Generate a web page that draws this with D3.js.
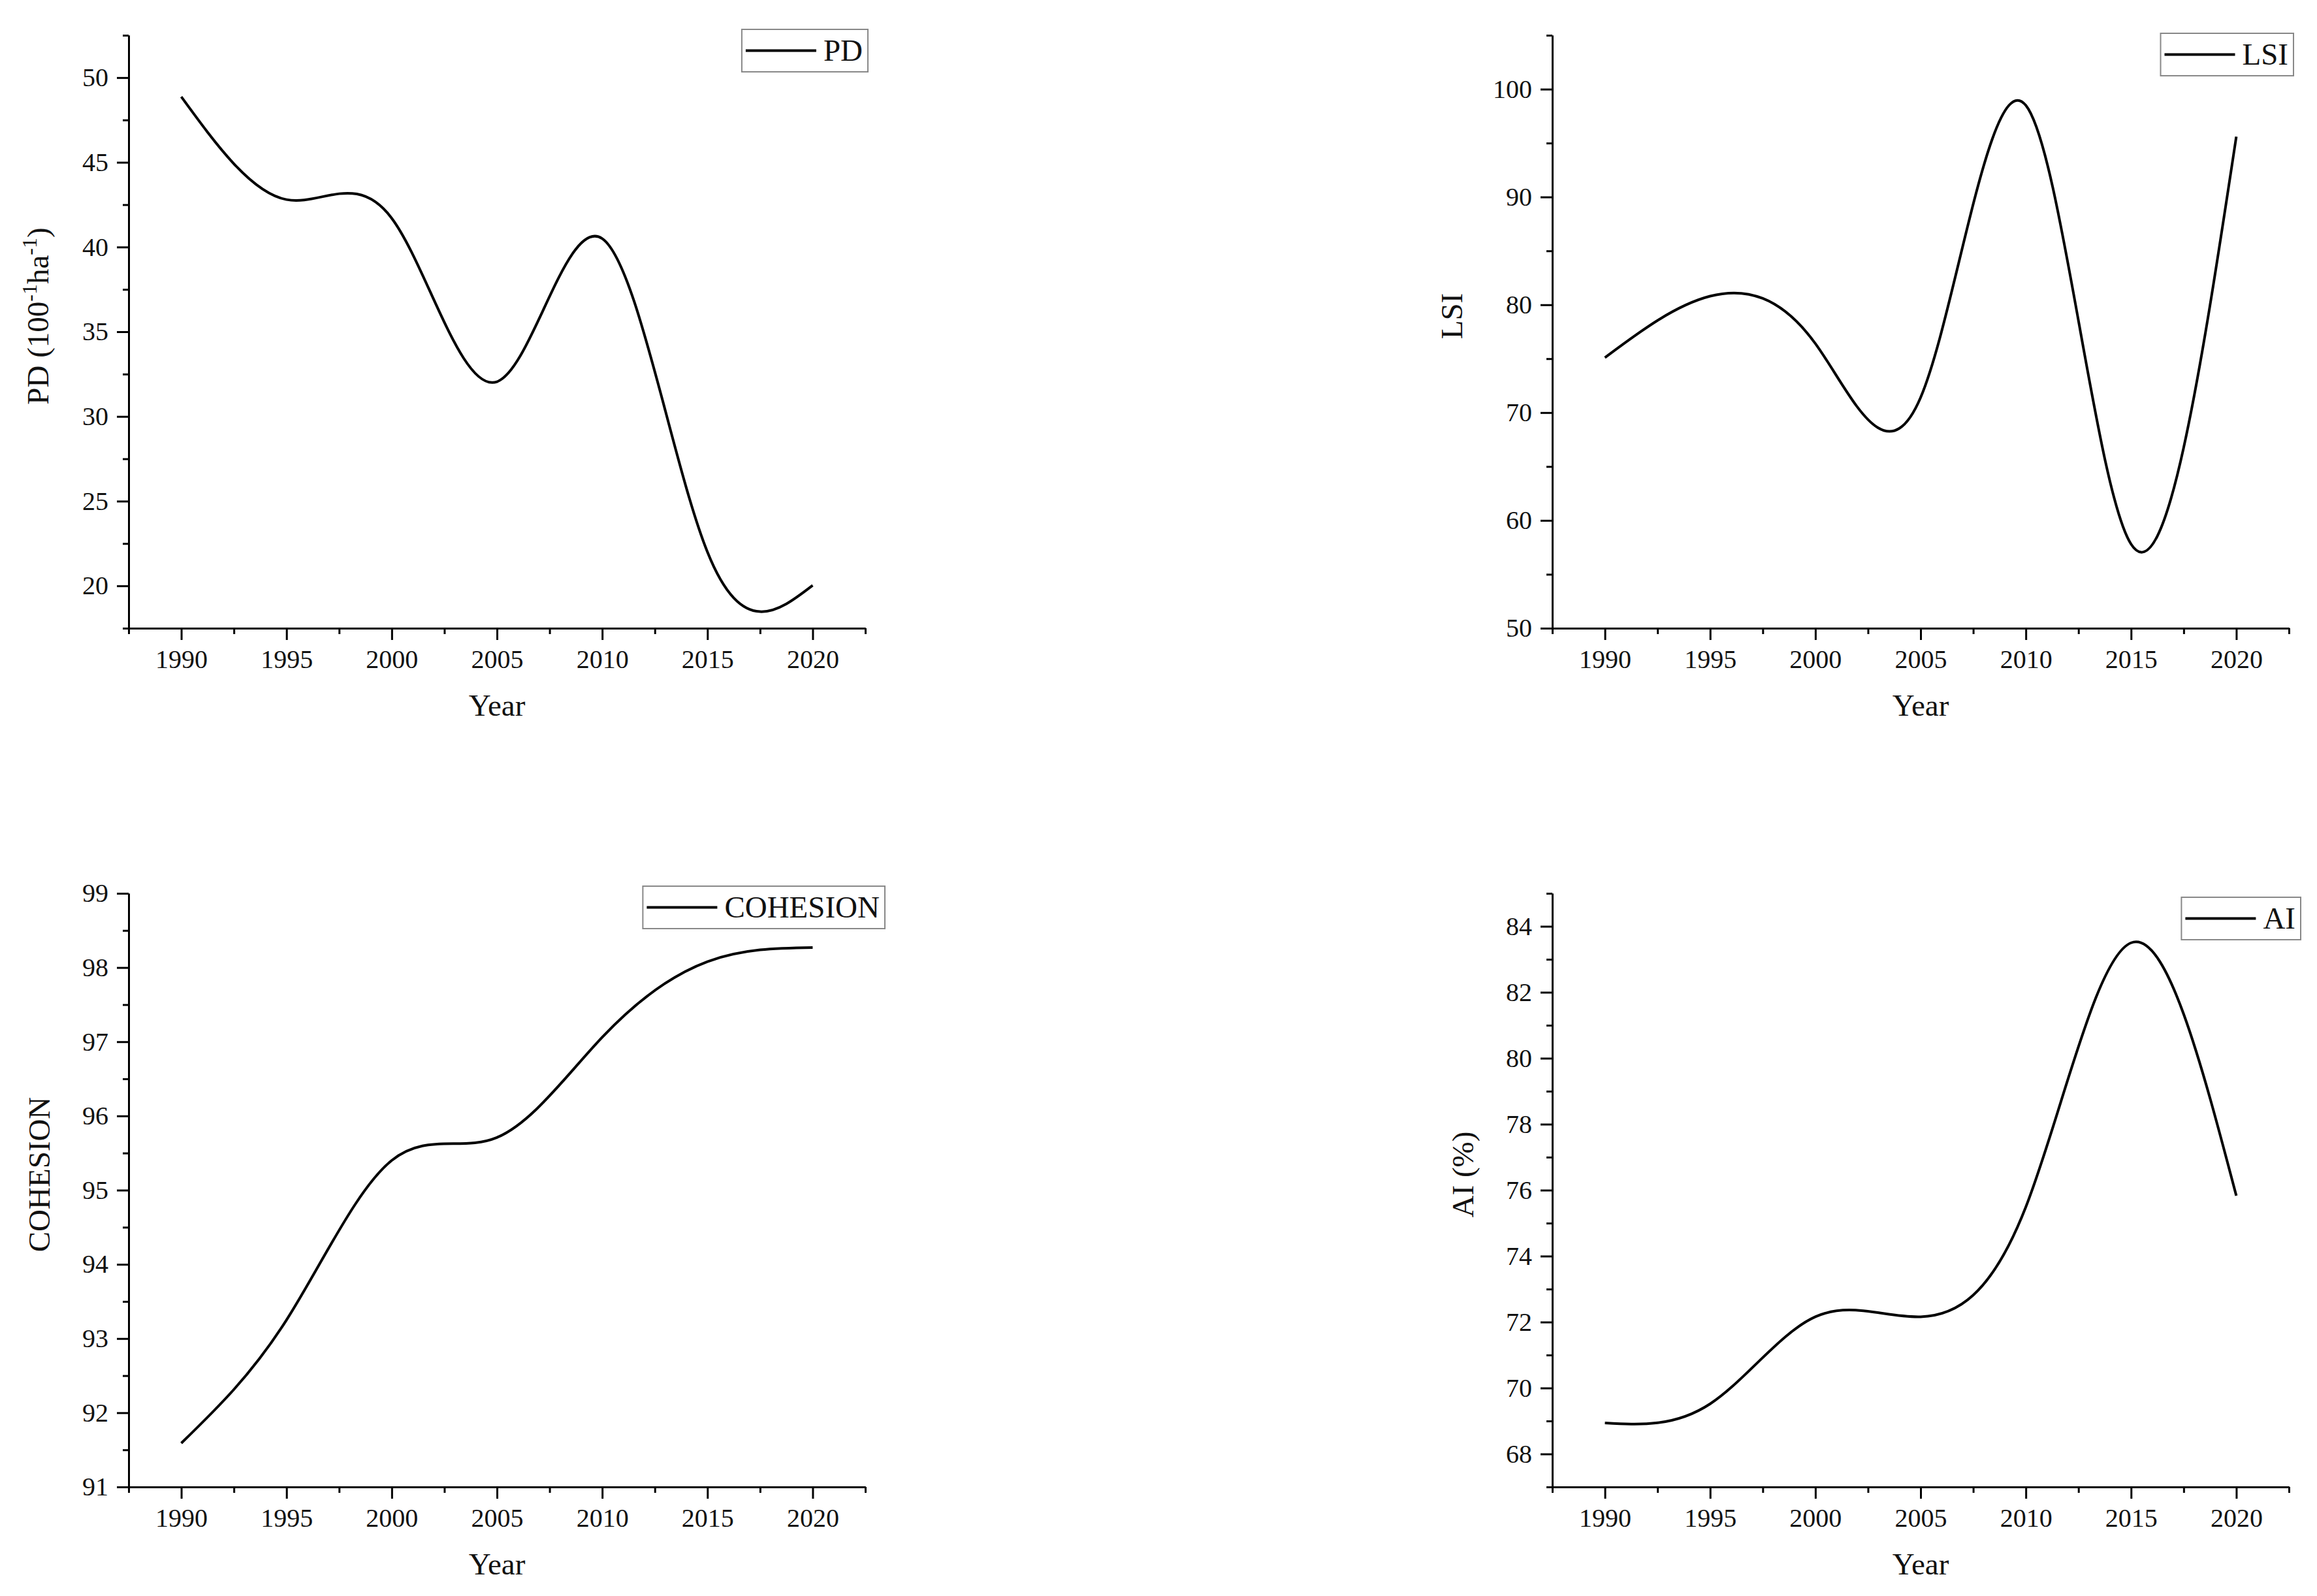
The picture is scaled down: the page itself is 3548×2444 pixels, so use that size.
<!DOCTYPE html>
<html>
<head>
<meta charset="utf-8">
<script src="https://cdn.jsdelivr.net/npm/d3@7"></script>
<style>
  body { margin: 0; background: #fff; }
  text { font-family: "Liberation Serif", "Times New Roman", serif; fill: #111; }
</style>
</head>
<body>
<div id="chart"></div>
<script>
// svg size
var svgWidth = 3548;
var svgHeight = 2444;

// data (one value every 5 years)
var years = [1990, 1995, 2000, 2005, 2010, 2015, 2020];
var pdValues = [48.87, 42.8, 41.7, 32.05, 40.5, 22.0, 20.03];
var lsiValues = [75.1, 80.8, 76.4, 71.4, 98.5, 57.8, 95.6];
var cohesionValues = [91.59, 93.25, 95.40, 95.71, 97.06, 98.08, 98.27];
var aiValues = [68.94, 69.52, 72.16, 72.16, 75.49, 83.5, 75.83];

// tick labels
var yearTicks = [1990, 1995, 2000, 2005, 2010, 2015, 2020];
var yearMinor = [1987.5, 1992.5, 1997.5, 2002.5, 2007.5, 2012.5, 2017.5, 2022.5];
var pdTicks = [20, 25, 30, 35, 40, 45, 50];
var pdMinor = [17.5, 22.5, 27.5, 32.5, 37.5, 42.5, 47.5, 52.5];
var lsiTicks = [50, 60, 70, 80, 90, 100];
var lsiMinor = [55, 65, 75, 85, 95, 105];
var cohesionTicks = [91, 92, 93, 94, 95, 96, 97, 98, 99];
var cohesionMinor = [91.5, 92.5, 93.5, 94.5, 95.5, 96.5, 97.5, 98.5];
var aiTicks = [68, 70, 72, 74, 76, 78, 80, 82, 84];
var aiMinor = [67, 69, 71, 73, 75, 77, 79, 81, 83, 85];

var svg = d3.select("#chart")
  .append("svg")
  .attr("width", svgWidth)
  .attr("height", svgHeight);

svg.append("rect")
  .attr("width", svgWidth)
  .attr("height", svgHeight)
  .attr("fill", "#fff");

var panels = [
  { name: "PD", values: pdValues, yDomain: [17.5, 52.5], ticks: pdTicks, minor: pdMinor,
    left: 197, right: 1325, top: 54, bottom: 962, labelX: 123, legendRight: 1329, legendTop: 45 },
  { name: "LSI", values: lsiValues, yDomain: [50, 105], ticks: lsiTicks, minor: lsiMinor,
    left: 2377, right: 3505, top: 54, bottom: 962, labelX: 138, legendRight: 3512, legendTop: 51 },
  { name: "COHESION", values: cohesionValues, yDomain: [91, 99], ticks: cohesionTicks, minor: cohesionMinor,
    left: 197, right: 1325, top: 1368, bottom: 2277, labelX: 121, legendRight: 1355, legendTop: 1357 },
  { name: "AI", values: aiValues, yDomain: [67, 85], ticks: aiTicks, minor: aiMinor,
    left: 2377, right: 3505, top: 1368, bottom: 2277, labelX: 121, legendRight: 3523, legendTop: 1374 }
];

function drawPanel(p) {
  var g = svg.append("g");

  var x = d3.scaleLinear().domain([1987.5, 2022.5]).range([p.left, p.right]);
  var y = d3.scaleLinear().domain(p.yDomain).range([p.bottom, p.top]);

  // minor ticks
  g.append("g")
    .attr("transform", `translate(0, ${p.bottom})`)
    .call(d3.axisBottom(x).tickValues(yearMinor).tickSize(9).tickSizeOuter(0).tickFormat(""));
  g.append("g")
    .attr("transform", `translate(${p.left}, 0)`)
    .call(d3.axisLeft(y).tickValues(p.minor).tickSize(9).tickSizeOuter(0).tickFormat(""));

  // major ticks + labels
  g.append("g")
    .attr("transform", `translate(0, ${p.bottom})`)
    .call(d3.axisBottom(x).tickValues(yearTicks).tickSize(18).tickSizeOuter(0).tickPadding(15).tickFormat(d3.format("d")));
  g.append("g")
    .attr("transform", `translate(${p.left}, 0)`)
    .call(d3.axisLeft(y).tickValues(p.ticks).tickSize(18).tickSizeOuter(0).tickPadding(13).tickFormat(d3.format("d")));

  g.selectAll(".domain, .tick line")
    .attr("stroke", "#000")
    .attr("stroke-width", 3);
  g.selectAll(".tick text")
    .attr("font-size", 40)
    .attr("font-family", "Liberation Serif")
    .attr("fill", "#111");

  // curve
  var line = d3.line()
    .x(function(d, i) { return x(years[i]); })
    .y(function(d) { return y(d); })
    .curve(d3.curveNatural);

  g.append("path")
    .datum(p.values)
    .attr("fill", "none")
    .attr("stroke", "#000")
    .attr("stroke-width", 4)
    .attr("d", line);

  // x axis title
  g.append("text")
    .attr("x", (p.left + p.right) / 2)
    .attr("y", p.bottom + 134)
    .attr("text-anchor", "middle")
    .attr("font-size", 47)
    .text("Year");

  // y axis title
  var yTitle = g.append("text")
    .attr("transform", `translate(${p.left - p.labelX}, ${(p.top + p.bottom) / 2 - 24}) rotate(-90)`)
    .attr("text-anchor", "middle")
    .attr("font-size", 47);
  if (p.name === "PD") {
    yTitle.append("tspan").text("PD (100");
    yTitle.append("tspan").attr("font-size", 32).attr("dy", -18).text("-1");
    yTitle.append("tspan").attr("dy", 18).text("ha");
    yTitle.append("tspan").attr("font-size", 32).attr("dy", -18).text("-1");
    yTitle.append("tspan").attr("dy", 18).text(")");
  } else if (p.name === "AI") {
    yTitle.text("AI (%)");
  } else {
    yTitle.text(p.name);
  }

  // legend
  var boxH = 65;
  var cy = p.legendTop + boxH / 2;
  var legend = g.append("g");
  var box = legend.append("rect");
  var label = legend.append("text")
    .attr("x", p.legendRight - 8)
    .attr("y", cy + 15)
    .attr("text-anchor", "end")
    .attr("font-size", 47)
    .text(p.name);
  var textStart = p.legendRight - 8 - label.node().getComputedTextLength();
  legend.append("line")
    .attr("x1", textStart - 119)
    .attr("x2", textStart - 11)
    .attr("y1", cy)
    .attr("y2", cy)
    .attr("stroke", "#000")
    .attr("stroke-width", 4);
  box.attr("x", textStart - 125)
    .attr("y", p.legendTop)
    .attr("width", p.legendRight - (textStart - 125))
    .attr("height", boxH)
    .attr("fill", "#fff")
    .attr("stroke", "#888")
    .attr("stroke-width", 2);
}

panels.forEach(drawPanel);
</script>
</body>
</html>
